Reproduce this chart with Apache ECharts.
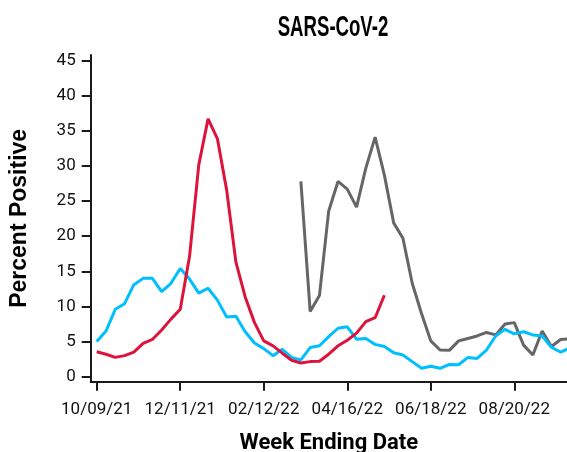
<!DOCTYPE html>
<html>
<head>
<meta charset="utf-8">
<script src="https://cdn.jsdelivr.net/npm/echarts@6/dist/echarts.min.js"></script>
<style>
  html, body { margin: 0; padding: 0; background: #fff; }
  #main { width: 567px; height: 452px; }
</style>
</head>
<body>
<div id="main"></div>
<script>
// week index 0 = 10/09/21, one point per week
var tickIdx = [0, 9, 18, 27, 36, 45];
var tickLabels = ['10/09/21', '12/11/21', '02/12/22', '04/16/22', '06/18/22', '08/20/22'];
var yTicks = [0, 5, 10, 15, 20, 25, 30, 35, 40, 45];

var redVals = [3.55, 3.2, 2.75, 3.0, 3.5, 4.75, 5.3, 6.65, 8.2, 9.6, 17.1, 30.2, 36.7, 33.9, 26.6, 16.3,
  11.35, 7.7, 5.1, 4.4, 3.35, 2.35, 1.95, 2.15, 2.2, 3.2, 4.4, 5.2, 6.2, 7.85, 8.4, 11.6];
var blueVals = [5.0, 6.5, 9.6, 10.4, 13.1, 14.0, 14.0, 12.1, 13.3, 15.4, 13.9, 11.9, 12.6, 10.9, 8.5, 8.6,
  6.4, 4.8, 4.0, 3.0, 3.9, 2.75, 2.4, 4.15, 4.4, 5.7, 6.9, 7.1, 5.35, 5.45, 4.6, 4.3, 3.4, 3.1, 2.15, 1.2,
  1.5, 1.2, 1.75, 1.7, 2.75, 2.6, 3.8, 5.8, 6.75, 6.1, 6.4, 5.95, 5.8, 4.2, 3.5, 4.1];
var grayStart = 22;
var grayVals = [27.8, 9.3, 11.55, 23.6, 27.8, 26.7, 24.15, 29.7, 34.1, 28.7, 21.9, 19.7, 13.3, 9.0, 5.1,
  3.8, 3.75, 5.1, 5.45, 5.8, 6.3, 5.95, 7.5, 7.7, 4.5, 3.1, 6.5, 4.3, 5.3, 5.4];

function pairs(vals, start) {
  return vals.map(function(v, i) { return [start + i, v]; });
}

var myChart = echarts.init(document.getElementById('main'));
var axisColor = '#1a1a1a';
var option = {
  animation: false,
  // condensed bold title, squeezed horizontally
  graphic: [{
    type: 'text',
    x: 333,
    y: 28,
    scaleX: 0.62,
    style: {
      text: 'SARS-CoV-2',
      x: 0, y: 0,
      align: 'center',
      verticalAlign: 'middle',
      font: 'bold 30px "Liberation Sans", sans-serif',
      fill: '#000'
    }
  }],
  grid: { left: 90.7, right: 0, top: 55, bottom: 70.3, containLabel: false, outerBoundsMode: 'none' },
  xAxis: {
    type: 'value',
    min: -0.65,
    max: 50.68,
    name: 'Week Ending Date',
    nameLocation: 'middle',
    nameGap: 51,
    nameTextStyle: { fontFamily: 'Roboto', fontWeight: 'bold', fontSize: 22, color: '#000' },
    axisLine: { show: true, onZero: false, lineStyle: { color: axisColor, width: 2 } },
    axisTick: { show: true, length: 9, customValues: tickIdx, lineStyle: { color: axisColor, width: 2 } },
    axisLabel: {
      customValues: tickIdx,
      margin: 20,
      fontFamily: 'Roboto',
      fontSize: 17,
      color: '#111',
      formatter: function(v) { return tickLabels[tickIdx.indexOf(v)] || ''; }
    },
    splitLine: { show: false }
  },
  yAxis: {
    type: 'value',
    min: -0.71,
    max: 45.8,
    name: 'Percent Positive',
    nameLocation: 'middle',
    nameGap: 60,
    nameTextStyle: { fontFamily: 'Liberation Sans', fontWeight: 'bold', fontSize: 23, color: '#000' },
    axisLine: { show: true, onZero: false, lineStyle: { color: axisColor, width: 2 } },
    axisTick: { show: true, length: 9, customValues: yTicks, lineStyle: { color: axisColor, width: 2 } },
    axisLabel: {
      customValues: yTicks,
      margin: 15,
      fontFamily: 'Roboto',
      fontSize: 17,
      color: '#111'
    },
    splitLine: { show: false }
  },
  series: [
    {
      name: 'gray', type: 'line', data: pairs(grayVals, grayStart), showSymbol: false,
      lineStyle: { color: '#666666', width: 3 }, itemStyle: { color: '#666666' }, clip: true
    },
    {
      name: 'blue', type: 'line', data: pairs(blueVals, 0), showSymbol: false,
      lineStyle: { color: '#00BFFF', width: 3 }, itemStyle: { color: '#00BFFF' }, clip: true
    },
    {
      name: 'red', type: 'line', data: pairs(redVals, 0), showSymbol: false,
      lineStyle: { color: '#DC143C', width: 3 }, itemStyle: { color: '#DC143C' }, clip: true
    }
  ]
};
myChart.setOption(option);
</script>
</body>
</html>
